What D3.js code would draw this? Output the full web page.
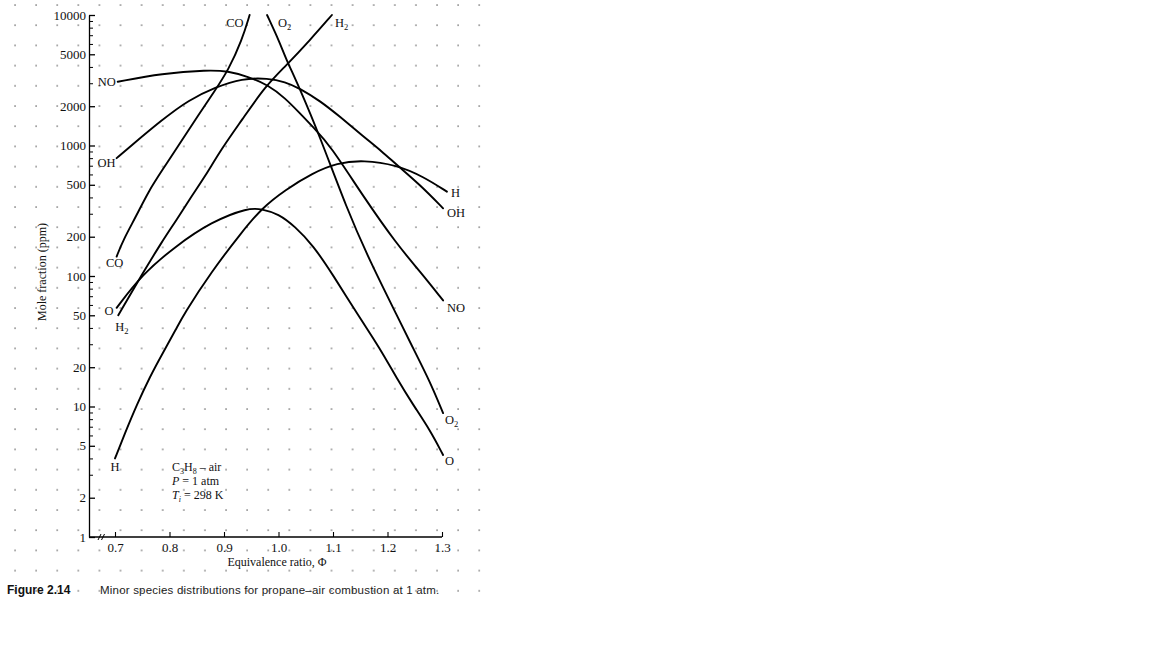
<!DOCTYPE html>
<html><head><meta charset="utf-8">
<script src="https://cdn.jsdelivr.net/npm/d3@7"></script>
<style>body{margin:0;background:#fff}svg{display:block}</style>
</head><body><svg id="c" width="1152" height="648"></svg>
<script>
// Data: [equivalence ratio, mole fraction ppm]
const NO = [[0.705,3080],[0.786,3570],[0.871,3790],[0.907,3720],[0.944,3370],[0.981,2910],[1.012,2310],[1.039,1770],[1.063,1390],[1.095,1000],[1.155,410],[1.217,175],[1.26,108],[1.302,65]];
const OH = [[0.703,800],[0.724,950],[0.786,1570],[0.835,2230],[0.884,2790],[0.933,3270],[0.981,3270],[1.012,3080],[1.039,2740],[1.076,2200],[1.113,1660],[1.155,1180],[1.19,900],[1.217,709],[1.26,498],[1.302,330]];
const H = [[0.7,4],[0.718,6.2],[0.74,10.3],[0.764,16.9],[0.789,26.3],[0.813,39.7],[0.825,50],[0.877,108],[0.933,218],[0.969,330],[1.012,456],[1.063,616],[1.107,734],[1.156,774],[1.217,709],[1.266,577],[1.309,443]];
const O = [[0.703,57],[0.749,102],[0.81,168],[0.877,261],[0.945,334],[0.969,326],[1.0,300],[1.03,240],[1.063,173],[1.1,102],[1.146,50],[1.186,28],[1.217,16.4],[1.247,10.3],[1.278,6.6],[1.302,4.25]];
const O2 = [[0.979,10000],[1.003,6070],[1.012,4790],[1.039,2740],[1.076,1170],[1.125,330],[1.168,129],[1.22,47.4],[1.247,27.9],[1.278,15.5],[1.302,8.9]];
const CO = [[0.703,141],[0.715,189],[0.74,293],[0.761,443],[0.789,669],[0.813,952],[0.847,1570],[0.884,2660],[0.908,3790],[0.933,6430],[0.947,10000]];
const H2 = [[0.706,50],[0.749,102],[0.786,183],[0.813,269],[0.838,394],[0.865,577],[0.896,952],[0.933,1570],[0.975,2820],[1.012,4020],[1.058,6430],[1.098,10000]];

const yMajorTicks = [1,2,5,10,20,50,100,200,500,1000,2000,5000,10000];
const yTickLabels = ["1","2","5","10","20","50","100","200","500","1000","2000","5000","10000"];
const xTicks = [0.7,0.8,0.9,1.0,1.1,1.2,1.3];
const xTickLabels = ["0.7","0.8","0.9","1.0","1.1","1.2","1.3"];

const serif = "'Liberation Serif','Times New Roman',serif";
const sans = "'Liberation Sans',Arial,sans-serif";

const svg = d3.select("#c");
svg.append("rect").attr("width",1152).attr("height",648).attr("fill","#fff");

// dotted page grid
const defs = svg.append("defs");
const pat = defs.append("pattern").attr("id","dots").attr("patternUnits","userSpaceOnUse")
  .attr("x",14).attr("y",4).attr("width",21.1).attr("height",20.2);
pat.append("rect").attr("x",0.3).attr("y",0.3).attr("width",1.5).attr("height",1.5).attr("fill","#808080");
svg.append("rect").attr("x",0).attr("y",0).attr("width",484).attr("height",600).attr("fill","url(#dots)");

const x = d3.scaleLinear().domain([0.7,1.3]).range([115,442]);
const y = d3.scaleLog().domain([1,10000]).range([537,15]);
const axisX0 = 89;

// Y axis
const gy = svg.append("g").attr("transform",`translate(${axisX0},0)`)
  .call(d3.axisLeft(y).tickValues(yMajorTicks).tickFormat((d,i)=>yTickLabels[i])
    .tickSizeInner(-6).tickSizeOuter(0).tickPadding(3));
gy.attr("font-family",serif).attr("font-size",13);
gy.selectAll("line,path").attr("stroke","#000").attr("stroke-width",1.3);
gy.selectAll("text").attr("fill","#111");

const minor = [];
[1,10,100,1000].forEach(d=>{for(let m=2;m<=9;m++){const v=d*m; if(!yMajorTicks.includes(v)) minor.push(v);}});
const gym = svg.append("g").attr("transform",`translate(${axisX0},0)`)
  .call(d3.axisLeft(y).tickValues(minor).tickFormat("").tickSizeInner(-4).tickSizeOuter(0));
gym.select(".domain").remove();
gym.selectAll("line").attr("stroke","#000").attr("stroke-width",1);

// X axis
const gx = svg.append("g").attr("transform",`translate(0,${y(1)})`)
  .call(d3.axisBottom(x).tickValues(xTicks).tickFormat((d,i)=>xTickLabels[i])
    .tickSizeInner(-5).tickSizeOuter(0).tickPadding(6));
gx.select(".domain").remove();
gx.attr("font-family",serif).attr("font-size",13);
gx.selectAll("line").attr("stroke","#000").attr("stroke-width",1.1);
gx.selectAll("text").attr("fill","#111");
svg.append("line").attr("x1",axisX0).attr("x2",x(1.3)).attr("y1",y(1)).attr("y2",y(1))
  .attr("stroke","#000").attr("stroke-width",1.6);
// axis break marks
[0,3.5].forEach(o=>svg.append("line").attr("x1",98+o).attr("y1",y(1)+3).attr("x2",101+o).attr("y2",y(1)-3)
  .attr("stroke","#000").attr("stroke-width",1));

// curves
const line = d3.line().x(d=>x(d[0])).y(d=>y(d[1])).curve(d3.curveBasis);
const series = [NO,OH,H,O,O2,CO,H2];
svg.append("g").selectAll("path").data(series).join("path")
  .attr("d",line).attr("fill","none").attr("stroke","#000").attr("stroke-width",1.9)
  .attr("stroke-linejoin","round").attr("stroke-linecap","round");

// curve labels
const labels = [
  {s:NO, at:0, t:"NO", a:"end", dx:-2, dy:4},
  {s:OH, at:0, t:"OH", a:"end", dx:-1, dy:9},
  {s:CO, at:0, t:"CO", a:"middle", dx:-2, dy:10},
  {s:O, at:0, t:"O", a:"end", dx:-3, dy:7},
  {s:H2, at:0, t:"H", sub:"2", a:"start", dx:-3, dy:16},
  {s:H, at:0, t:"H", a:"middle", dx:0, dy:13},
  {s:CO, at:1, t:"CO", a:"end", dx:-6, dy:12},
  {s:O2, at:0, t:"O", sub:"2", a:"start", dx:11, dy:12},
  {s:H2, at:1, t:"H", sub:"2", a:"start", dx:3, dy:12},
  {s:H, at:1, t:"H", a:"start", dx:4, dy:5},
  {s:OH, at:1, t:"OH", a:"start", dx:4, dy:9},
  {s:NO, at:1, t:"NO", a:"start", dx:4, dy:12},
  {s:O2, at:1, t:"O", sub:"2", a:"start", dx:2, dy:11},
  {s:O, at:1, t:"O", a:"start", dx:2, dy:10}
];
const gl = svg.append("g").attr("font-family",serif).attr("font-size",12.5).attr("fill","#111");
labels.forEach(l=>{
  const p = l.at===0 ? l.s[0] : l.s[l.s.length-1];
  const tx = gl.append("text").attr("x",x(p[0])+l.dx).attr("y",y(p[1])+l.dy).attr("text-anchor",l.a);
  tx.append("tspan").text(l.t);
  if(l.sub) tx.append("tspan").attr("font-size",8.5).attr("dy",3).text(l.sub);
});

// conditions annotation
const ga = svg.append("g").attr("font-family",serif).attr("font-size",12).attr("fill","#111");
const a1 = ga.append("text").attr("x",172).attr("y",471);
a1.append("tspan").text("C");
a1.append("tspan").attr("font-size",8).attr("dy",3).text("3");
a1.append("tspan").attr("dy",-3).text("H");
a1.append("tspan").attr("font-size",8).attr("dy",3).text("8");
a1.append("tspan").attr("dy",-3).text(" – air");
const a2 = ga.append("text").attr("x",172).attr("y",485);
a2.append("tspan").attr("font-style","italic").text("P");
a2.append("tspan").text(" = 1 atm");
const a3 = ga.append("text").attr("x",172).attr("y",499);
a3.append("tspan").attr("font-style","italic").text("T");
a3.append("tspan").attr("font-style","italic").attr("font-size",8).attr("dy",3).text("i");
a3.append("tspan").attr("dy",-3).text(" = 298 K");

// axis titles
svg.append("text").attr("x",277).attr("y",566).attr("text-anchor","middle")
  .attr("font-family",serif).attr("font-size",12).attr("fill","#111").text("Equivalence ratio, Φ");
svg.append("text").attr("transform","translate(46,272) rotate(-90)").attr("text-anchor","middle")
  .attr("font-family",serif).attr("font-size",12).attr("fill","#111").text("Mole fraction (ppm)");

// caption
svg.append("text").attr("x",7).attr("y",594).attr("font-family",sans).attr("font-size",12)
  .attr("font-weight","bold").attr("fill","#111").text("Figure 2.14");
svg.append("text").attr("x",100).attr("y",594).attr("font-family",sans).attr("font-size",11.5)
  .attr("letter-spacing",0.2).attr("fill","#222").text("Minor species distributions for propane–air combustion at 1 atm.");
</script></body></html>
